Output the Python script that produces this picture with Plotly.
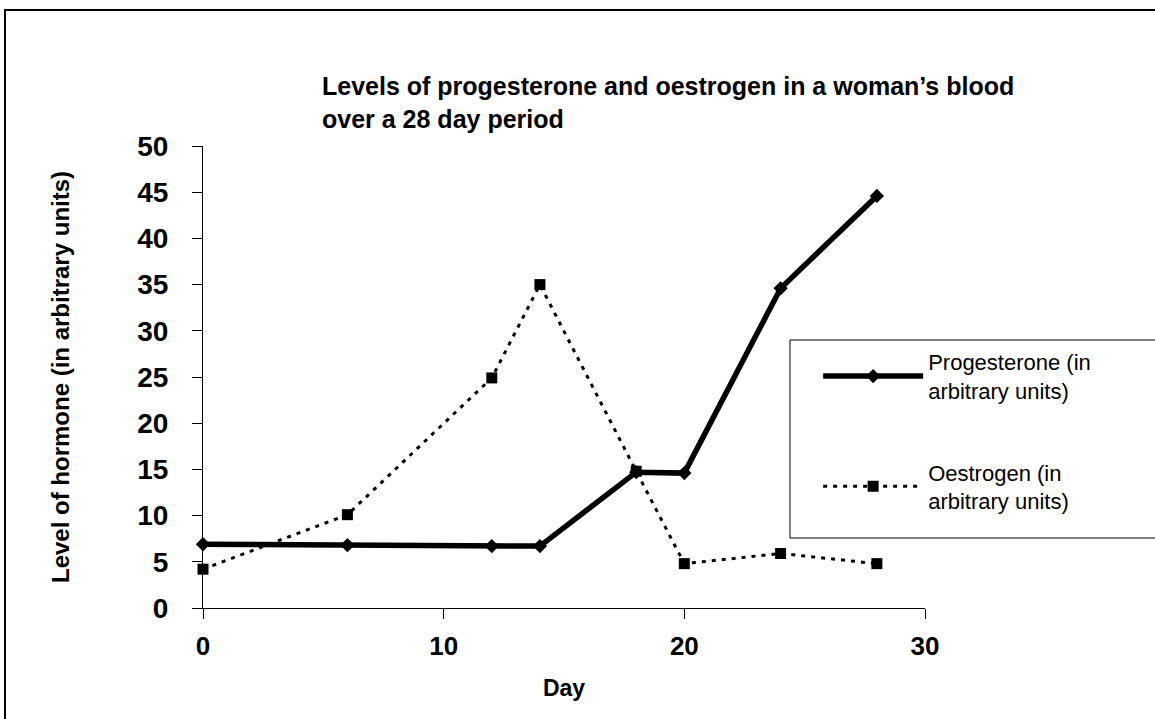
import plotly.graph_objects as go

days = [0, 6, 12, 14, 18, 20, 24, 28]
progesterone = [6.9, 6.8, 6.7, 6.7, 14.7, 14.6, 34.6, 44.6]
oestrogen = [4.2, 10.1, 24.9, 35.0, 14.8, 4.8, 5.9, 4.8]

y_ticks = [0, 5, 10, 15, 20, 25, 30, 35, 40, 45, 50]
x_ticks = [0, 10, 20, 30]

title_text = "Levels of progesterone and oestrogen in a woman’s blood<br>over a 28 day period"
prog_name = "Progesterone (in<br>arbitrary units)"
oes_name = "Oestrogen (in<br>arbitrary units)"

FONT = "Liberation Sans, Arial, sans-serif"

fig = go.Figure()
fig.add_trace(go.Scatter(
    x=days, y=progesterone, name=prog_name, mode="lines+markers",
    line=dict(color="black", width=5.5),
    marker=dict(symbol="diamond", size=11, color="black"),
    legendgroup="p", cliponaxis=False,
))
fig.add_trace(go.Scatter(
    x=days, y=oestrogen, name=oes_name, mode="lines+markers",
    line=dict(color="black", width=3, dash="4px,6px"),
    marker=dict(symbol="square", size=11, color="black"),
    legendgroup="o", cliponaxis=False,
))

fig.update_layout(
    width=1155, height=719,
    margin=dict(l=203, r=230, t=146, b=111),
    paper_bgcolor="white", plot_bgcolor="white",
    font=dict(family=FONT, color="black"),
    title=dict(text=title_text, x=322/1155, xanchor="left", xref="container",
               y=1 - 95/719, yanchor="top", yref="container",
               font=dict(size=25, weight="bold", family=FONT, color="black")),
    showlegend=True,
    legend=dict(x=0.852, y=0.578, xanchor="left", yanchor="top",
                bgcolor="rgba(0,0,0,0)", borderwidth=0,
                font=dict(size=22, family=FONT, color="black"),
                itemwidth=100, traceorder="grouped", tracegroupgap=50,
                valign="middle"),
    xaxis=dict(range=[0, 30], tickvals=x_ticks, ticks="outside", ticklen=10,
               tickwidth=1, tickcolor="black", showline=True, linecolor="black",
               linewidth=1, showgrid=False, zeroline=False, ticklabelstandoff=5,
               tickfont=dict(size=26, weight="bold", family=FONT, color="black"),
               title=dict(text="Day", standoff=19,
                          font=dict(size=23, weight="bold", family=FONT, color="black"))),
    yaxis=dict(range=[0, 50], tickvals=y_ticks, ticks="outside", ticklen=10,
               tickwidth=1, tickcolor="black", showline=True, linecolor="black",
               linewidth=1, showgrid=False, zeroline=False, ticklabelstandoff=18,
               tickfont=dict(size=28, weight="bold", family=FONT, color="black"),
               title=dict(text="Level of hormone (in arbitrary units)", standoff=60,
                          font=dict(size=24, weight="bold", family=FONT, color="black"))),
    shapes=[
        dict(type="rect", xref="paper", yref="paper",
             x0=(5 - 203) / 722, x1=1.5, y0=-0.5, y1=(608 - 10) / 462,
             line=dict(color="black", width=2), fillcolor="rgba(0,0,0,0)", layer="below"),
        dict(type="rect", xref="paper", yref="paper",
             x0=(790 - 203) / 722, x1=1.5, y0=(608 - 538) / 462, y1=(608 - 340) / 462,
             line=dict(color="black", width=1), fillcolor="rgba(0,0,0,0)"),
    ],
)

fig.write_html("out.html", config={"displayModeBar": False},
               post_script="document.body.style.margin='0px';")
